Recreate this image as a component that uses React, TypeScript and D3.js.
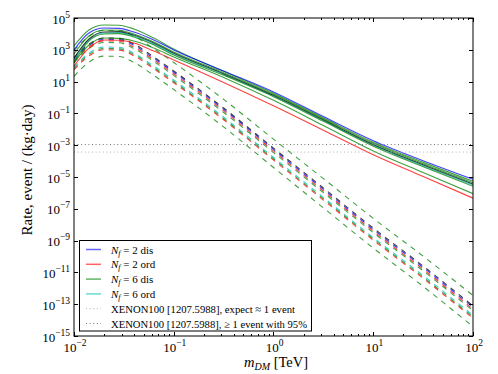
import React from 'react';
import * as d3 from 'd3';

const WIDTH = 498;
const HEIGHT = 374;
const PLOT = { left: 74, right: 473, top: 18, bottom: 336 };

const logMass = [-2, -1.85, -1.7, -1.55, -1.4, -1.2, -1.0, -0.5, 0, 0.5, 1, 1.5, 2];

// solid curves, log10(rate)
const solidBlue = [2.99, 4.06, 4.37, 4.35, 4.12, 3.62, 2.99, 1.67, 0.35, -1.2, -2.72, -3.98, -5.15];
const solidGreenTop = [3.24, 4.25, 4.56, 4.54, 4.31, 3.74, 3.05, 1.65, 0.27, -1.28, -2.82, -4.08, -5.27];
const solidGreen2 = [2.74, 3.87, 4.25, 4.23, 3.99, 3.49, 2.86, 1.56, 0.2, -1.34, -2.88, -4.16, -5.36];
const solidBlack = [2.48, 3.68, 4.12, 4.14, 3.93, 3.43, 2.8, 1.5, 0.14, -1.4, -2.95, -4.23, -5.44];
const solidCyan = [2.36, 3.62, 4.06, 4.08, 3.87, 3.36, 2.74, 1.45, 0.1, -1.45, -3.0, -4.29, -5.5];
const solidGreen3 = [2.23, 3.55, 3.99, 4.02, 3.81, 3.3, 2.67, 1.4, 0.05, -1.5, -3.06, -4.35, -5.58];
const solidGreenLow = [2.17, 3.3, 3.74, 3.72, 3.55, 3.11, 2.55, 1.26, -0.18, -1.76, -3.36, -4.72, -6.05];
const solidRed = [1.98, 3.11, 3.62, 3.6, 3.43, 2.92, 2.36, 0.95, -0.52, -2.06, -3.6, -4.97, -6.33];

// dashed curves, log10(rate)
const dashGreenTop = [2.95, 3.85, 4.22, 4.2, 3.86, 3.07, 2.2, -0.12, -2.62, -5.1, -7.6, -9.98, -12.45];
const dashBlack = [2.48, 3.36, 3.74, 3.72, 3.36, 2.55, 1.67, -0.66, -3.18, -5.69, -8.21, -10.6, -13.11];
const dashBlue = [2.4, 3.28, 3.66, 3.64, 3.28, 2.47, 1.59, -0.74, -3.26, -5.78, -8.3, -10.69, -13.2];
const dashRed = [2.3, 3.18, 3.56, 3.54, 3.18, 2.37, 1.49, -0.84, -3.36, -5.88, -8.4, -10.8, -13.31];
const dashGreenMid = [2.2, 3.08, 3.46, 3.44, 3.08, 2.27, 1.39, -0.94, -3.46, -5.98, -8.5, -10.9, -13.41];
const dashCyan = [1.91, 2.79, 3.17, 3.15, 2.79, 1.98, 1.1, -1.23, -3.76, -6.28, -8.8, -11.19, -13.7];
const dashGreenLow = [1.82, 2.7, 3.08, 3.06, 2.7, 1.89, 1.01, -1.32, -3.85, -6.37, -8.89, -11.29, -13.8];
const dashRedLow = [1.74, 2.62, 3.0, 2.98, 2.62, 1.81, 0.93, -1.4, -3.93, -6.45, -8.97, -11.37, -13.88];
const dashGreenBottom = [1.33, 2.22, 2.6, 2.58, 2.21, 1.39, 0.5, -1.85, -4.4, -6.94, -9.47, -11.88, -14.41];

// XENON100 limits (event / kg / day)
const xenonExpect = 3.7e-4;
const xenon95 = 1.1e-3;

const yTickExps = [-15, -13, -11, -9, -7, -5, -3, -1, 1, 3, 5];
const xTickExps = [-2, -1, 0, 1, 2];

const BLUE = '#0000ff';
const RED = '#ff0000';
const GREEN = '#008000';
const CYAN = '#00bfbf';
const BLACK = '#000000';
const ALPHA = 0.75;

const dashedSeries = [
  { values: dashGreenBottom, color: GREEN },
  { values: dashRedLow, color: RED },
  { values: dashGreenLow, color: GREEN },
  { values: dashCyan, color: CYAN },
  { values: dashGreenMid, color: GREEN },
  { values: dashRed, color: RED },
  { values: dashBlue, color: BLUE },
  { values: dashBlack, color: BLACK },
  { values: dashGreenTop, color: GREEN },
];

const solidSeries = [
  { values: solidRed, color: RED },
  { values: solidGreenLow, color: GREEN },
  { values: solidCyan, color: CYAN },
  { values: solidGreen3, color: GREEN },
  { values: solidBlack, color: BLACK },
  { values: solidGreen2, color: GREEN },
  { values: solidGreenTop, color: GREEN },
  { values: solidBlue, color: BLUE },
];

const legendCurves = [
  { nf: '2', kind: 'dis', color: BLUE },
  { nf: '2', kind: 'ord', color: RED },
  { nf: '6', kind: 'dis', color: GREEN },
  { nf: '6', kind: 'ord', color: CYAN },
];

const FONT = '"Liberation Serif", "DejaVu Serif", serif';

const App = () => {
  const x = d3.scaleLog().domain([1e-2, 1e2]).range([PLOT.left, PLOT.right]);
  const y = d3.scaleLog().domain([1e-15, 1e5]).range([PLOT.bottom, PLOT.top]);

  const line = d3
    .line<number>()
    .x((_, i) => x(Math.pow(10, logMass[i])))
    .y((v) => y(Math.pow(10, v)))
    .curve(d3.curveMonotoneX);

  const xMinor = x.ticks().filter((t) => Math.abs(Math.log10(t) - Math.round(Math.log10(t))) > 1e-6);

  const legendY = (i: number) => 249.5 + i * 14.8;

  return (
    <svg
      width={WIDTH}
      height={HEIGHT}
      style={{ position: 'absolute', left: 0, top: 0, background: '#fff' }}
      fontFamily={FONT}
    >
      <defs>
        <clipPath id="plot-clip">
          <rect x={PLOT.left} y={PLOT.top} width={PLOT.right - PLOT.left} height={PLOT.bottom - PLOT.top} />
        </clipPath>
      </defs>

      <g clipPath="url(#plot-clip)" fill="none">
        {dashedSeries.map((s, i) => (
          <path
            key={'d' + i}
            d={line(s.values) || ''}
            stroke={s.color}
            strokeOpacity={ALPHA}
            strokeWidth={1.1}
            strokeDasharray="5.2,5.2"
          />
        ))}
        {solidSeries.map((s, i) => (
          <path key={'s' + i} d={line(s.values) || ''} stroke={s.color} strokeOpacity={ALPHA} strokeWidth={1.1} />
        ))}
        <line
          x1={PLOT.left}
          x2={PLOT.right}
          y1={y(xenonExpect)}
          y2={y(xenonExpect)}
          stroke="#b0b0b0"
          strokeWidth={1}
          strokeDasharray="1,2.6"
        />
        <line
          x1={PLOT.left}
          x2={PLOT.right}
          y1={y(xenon95)}
          y2={y(xenon95)}
          stroke="#707070"
          strokeWidth={1}
          strokeDasharray="1,2.6"
        />
      </g>

      {/* ticks, pointing inwards on all four sides */}
      <g stroke="#000" strokeWidth={1}>
        {yTickExps.map((e) => {
          const yy = Math.round(y(Math.pow(10, e))) + 0.5;
          return (
            <g key={'yt' + e}>
              <line x1={PLOT.left} x2={PLOT.left + 4} y1={yy} y2={yy} />
              <line x1={PLOT.right} x2={PLOT.right - 4} y1={yy} y2={yy} />
            </g>
          );
        })}
        {xTickExps.map((e) => {
          const xx = Math.round(x(Math.pow(10, e))) + 0.5;
          return (
            <g key={'xt' + e}>
              <line x1={xx} x2={xx} y1={PLOT.bottom} y2={PLOT.bottom - 4} />
              <line x1={xx} x2={xx} y1={PLOT.top} y2={PLOT.top + 4} />
            </g>
          );
        })}
        {xMinor.map((t, i) => {
          const xx = Math.round(x(t)) + 0.5;
          return (
            <g key={'xm' + i}>
              <line x1={xx} x2={xx} y1={PLOT.bottom} y2={PLOT.bottom - 2} />
              <line x1={xx} x2={xx} y1={PLOT.top} y2={PLOT.top + 2} />
            </g>
          );
        })}
      </g>

      <rect
        x={PLOT.left}
        y={PLOT.top}
        width={PLOT.right - PLOT.left}
        height={PLOT.bottom - PLOT.top}
        fill="none"
        stroke="#000"
        strokeWidth={1}
      />

      {/* tick labels */}
      {yTickExps.map((e) => (
        <text key={'yl' + e} x={70} y={y(Math.pow(10, e)) + 5.5} textAnchor="end" fontSize={13} fill="#000">
          10
          <tspan dy={-6} fontSize={9.5}>
            {e < 0 ? '\u2212' + Math.abs(e) : String(e)}
          </tspan>
        </text>
      ))}
      {xTickExps.map((e) => (
        <text key={'xl' + e} x={x(Math.pow(10, e)) + 1} y={352} textAnchor="middle" fontSize={13} fill="#000">
          10
          <tspan dy={-6} fontSize={9.5}>
            {e < 0 ? '\u2212' + Math.abs(e) : String(e)}
          </tspan>
        </text>
      ))}

      {/* axis titles */}
      <text transform="translate(32,170) rotate(-90)" textAnchor="middle" fontSize={15} fill="#000">
        Rate, event / (kg·day)
      </text>
      <text x={276} y={367} textAnchor="middle" fontSize={14.5} fill="#000">
        <tspan fontStyle="italic">m</tspan>
        <tspan fontStyle="italic" fontSize={10} dy={3}>
          DM
        </tspan>
        <tspan dy={-3}> [TeV]</tspan>
      </text>

      {/* legend */}
      <rect x={79.5} y={240.5} width={232} height={90.5} fill="#fff" stroke="#000" strokeWidth={1} />
      {legendCurves.map((c, i) => (
        <g key={'lg' + i}>
          <line
            x1={86}
            x2={101}
            y1={legendY(i)}
            y2={legendY(i)}
            stroke={c.color}
            strokeOpacity={0.6}
            strokeWidth={1.5}
          />
          <text x={111} y={legendY(i) + 4} fontSize={11} fill="#000">
            <tspan fontStyle="italic">N</tspan>
            <tspan fontStyle="italic" fontSize={8} dy={2}>
              f
            </tspan>
            <tspan dy={-2}>{' = ' + c.nf + ' ' + c.kind}</tspan>
          </text>
        </g>
      ))}
      <line x1={86} x2={101} y1={legendY(4)} y2={legendY(4)} stroke="#b0b0b0" strokeDasharray="1,2.6" />
      <text
        x={111}
        y={legendY(4) + 4}
        fontSize={11}
        fill="#000"
        textLength={184}
        lengthAdjust="spacingAndGlyphs"
      >
        XENON100 [1207.5988], expect ≈ 1 event
      </text>
      <line x1={86} x2={101} y1={legendY(5)} y2={legendY(5)} stroke="#707070" strokeDasharray="1,2.6" />
      <text
        x={111}
        y={legendY(5) + 4}
        fontSize={11}
        fill="#000"
        textLength={196}
        lengthAdjust="spacingAndGlyphs"
      >
        XENON100 [1207.5988], ≥ 1 event with 95%
      </text>
    </svg>
  );
};

export default App;
